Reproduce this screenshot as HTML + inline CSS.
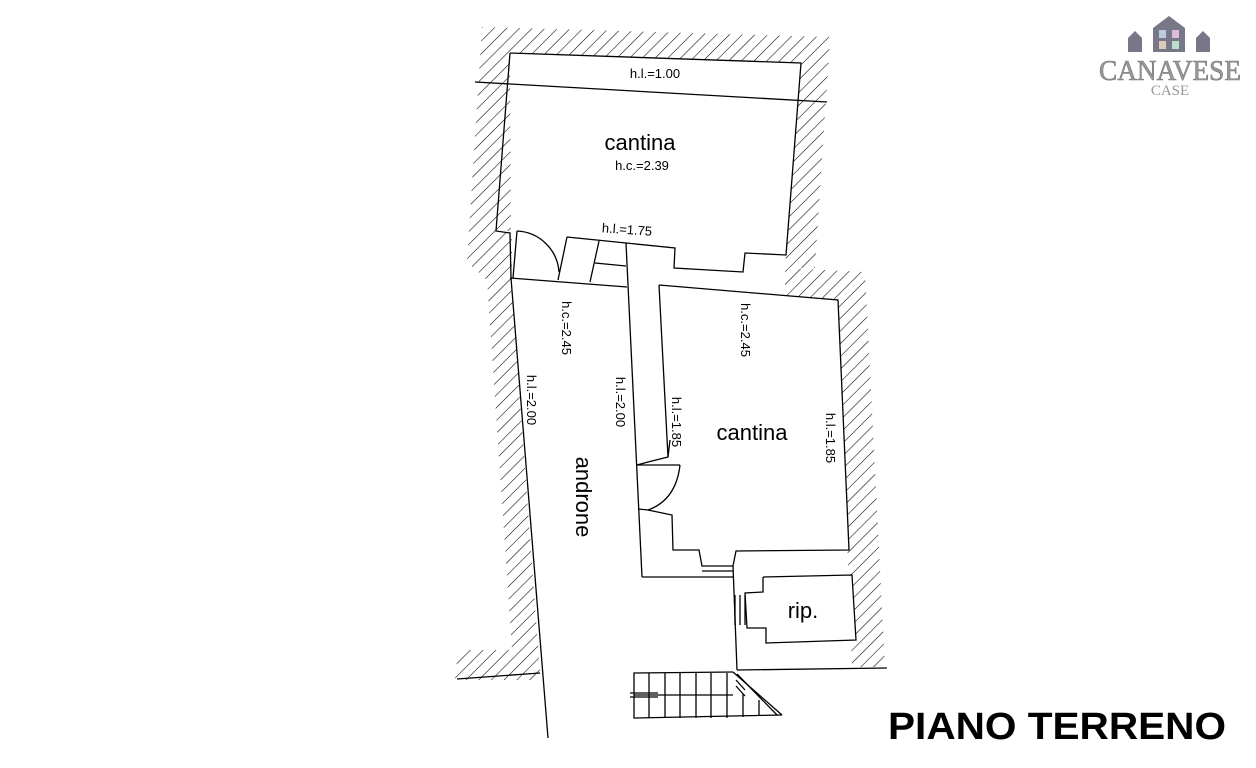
<!DOCTYPE html>
<html><head><style>html,body{margin:0;padding:0;background:#fff}svg{display:block}</style></head><body>
<svg width="1256" height="768" viewBox="0 0 1256 768" xmlns="http://www.w3.org/2000/svg" font-family="Liberation Sans, sans-serif">
<defs>
<pattern id="h" width="9" height="9" patternUnits="userSpaceOnUse" patternTransform="rotate(45)">
<rect width="9" height="9" fill="#fff"/><line x1="0" y1="0" x2="0" y2="9" stroke="#000" stroke-width="1.1"/>
</pattern>
</defs>
<g fill="url(#h)" stroke="none">
<polygon points="482,27 830,37 826,102 482,90"/>
<polygon points="482,27 512,30 512,278 540,650 540,680 455,680 458,650 512,650 487,280 467,262"/>
<polygon points="800,40 830,37 815,268 785,268"/>
<polygon points="785,268 865,272 885,667 852,667 838,300 785,295"/>
</g>
<g fill="#fff" stroke="none">
<polygon points="510,53 801,63 786,255 745,253 743,272 674,268 675,248 626,243 567,237 517,231 496,231 510,233 511,278"/>
<polygon points="659,285 838,300 849,550 659,550"/>
<polygon points="763,577 852,575 856,640 766,643"/>
<polygon points="511,278 627,287 642,577 737,577 737,670 540,673"/>
</g>
<g fill="none" stroke="#000" stroke-width="1.3">
<polyline points="510,53 801,63 786,255 745,253 743,272 674,268 675,248 626,243 567,237"/>
<polyline points="510,53 496,231 510,233 511,278"/>
<line x1="475" y1="82" x2="827" y2="102"/>
<line x1="517" y1="231" x2="513" y2="278"/>
<path d="M517,231 A44,44 0 0 1 559,272"/>
<line x1="510" y1="278" x2="627" y2="287"/>
<line x1="567" y1="237" x2="558" y2="280"/>
<line x1="599" y1="241" x2="590" y2="282"/>
<line x1="595" y1="263" x2="626" y2="266"/>
<line x1="626" y1="243" x2="642" y2="577"/>
<polyline points="659,285 838,300 849,550 736,551 733,566"/>
<polyline points="659,285 668,457 648,462 637,465"/>
<line x1="670" y1="440" x2="668" y2="457"/>
<line x1="637" y1="465" x2="680" y2="465"/>
<path d="M680,465 Q676,500 648,510"/>
<polyline points="638,509 648,510 672,515 673,550 699,550 702,566 733,566"/>
<line x1="702" y1="571" x2="733" y2="571"/>
<line x1="642" y1="577" x2="733" y2="577"/>
<line x1="733" y1="566" x2="737" y2="670"/>
<polyline points="763,577 852,575 856,640 766,643 766,628 747,628 745,593 763,592 763,577"/>
<line x1="735" y1="595" x2="735" y2="625"/><line x1="740" y1="595" x2="740" y2="625"/><line x1="745" y1="595" x2="745" y2="625"/>
<line x1="737" y1="670" x2="887" y2="668"/>
<line x1="457" y1="679" x2="540" y2="673"/>
<line x1="511" y1="278" x2="548" y2="738"/>
<polyline points="733,672 634,673 634,718 782,715"/>
<line x1="634" y1="695" x2="733" y2="695"/>
<line x1="649" y1="673" x2="649" y2="718"/><line x1="665" y1="673" x2="665" y2="718"/><line x1="680" y1="673" x2="680" y2="718"/><line x1="696" y1="673" x2="696" y2="718"/><line x1="711" y1="673" x2="711" y2="718"/><line x1="727" y1="673" x2="727" y2="718"/><line x1="743" y1="694" x2="743" y2="717"/><line x1="759" y1="700" x2="759" y2="716"/>
<line x1="733" y1="672" x2="782" y2="715"/><line x1="737" y1="674" x2="777" y2="715"/>
<line x1="630" y1="693" x2="658" y2="693"/><line x1="630" y1="697" x2="658" y2="697"/>
<line x1="736" y1="680" x2="745" y2="690"/><line x1="736" y1="686" x2="745" y2="696"/>
</g>
<g fill="#000" text-anchor="middle">
<text x="655" y="78" font-size="13">h.l.=1.00</text>
<text x="640" y="150" font-size="22">cantina</text>
<text x="642" y="170" font-size="13">h.c.=2.39</text>
<text x="627" y="234" font-size="13" transform="rotate(4 627 230)">h.l.=1.75</text>
<text x="0" y="0" font-size="13" transform="translate(562,328) rotate(90)">h.c.=2.45</text>
<text x="0" y="0" font-size="13" transform="translate(527,400) rotate(90)">h.l.=2.00</text>
<text x="0" y="0" font-size="13" transform="translate(616,402) rotate(90)">h.l.=2.00</text>
<text x="0" y="0" font-size="13" transform="translate(672,422) rotate(90)">h.l.=1.85</text>
<text x="0" y="0" font-size="13" transform="translate(741,330) rotate(90)">h.c.=2.45</text>
<text x="0" y="0" font-size="13" transform="translate(826,438) rotate(90)">h.l.=1.85</text>
<text x="752" y="440" font-size="22">cantina</text>
<text x="0" y="0" font-size="22" transform="translate(576,497) rotate(90)">androne</text>
<text x="803" y="618" font-size="22">rip.</text>
</g>
<text x="888" y="739" font-size="38" font-weight="bold" textLength="338" lengthAdjust="spacingAndGlyphs">PIANO TERRENO</text>
<g>
<polygon points="1128,52 1128,38 1135,31 1142,38 1142,52" fill="#778"/>
<polygon points="1153,52 1153,28 1169,16 1185,28 1185,52" fill="#778"/>
<polygon points="1196,52 1196,38 1203,31 1210,38 1210,52" fill="#778"/>
<rect x="1159" y="30" width="7" height="8" fill="#bcd"/><rect x="1172" y="30" width="7" height="8" fill="#dbd"/>
<rect x="1159" y="41" width="7" height="8" fill="#dcb"/><rect x="1172" y="41" width="7" height="8" fill="#bdc"/>
<text x="1170" y="80" font-family="Liberation Serif, serif" font-size="28" fill="#999" stroke="#777" stroke-width="0.6" text-anchor="middle" textLength="142" lengthAdjust="spacingAndGlyphs">CANAVESE</text>
<text x="1170" y="95" font-family="Liberation Serif, serif" font-size="15" fill="#999" text-anchor="middle">CASE</text>
</g>
</svg>
</body></html>
